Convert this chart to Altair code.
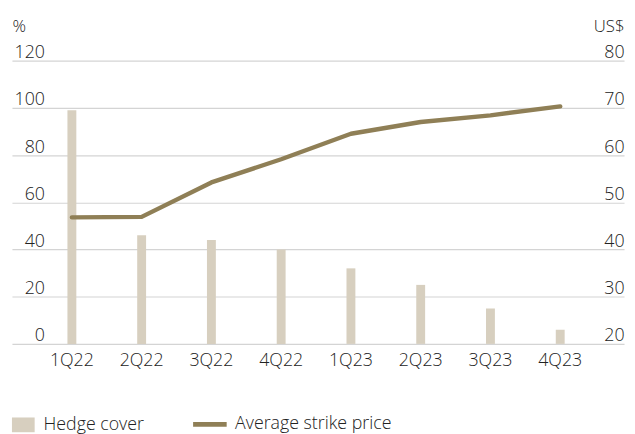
import altair as alt
import pandas as pd

quarters = ["1Q22", "2Q22", "3Q22", "4Q22", "1Q23", "2Q23", "3Q23", "4Q23"]
hedge_cover = [99, 46, 44, 40, 32, 25, 15, 6]
strike_price = [46.8, 46.9, 54.2, 59.1, 64.5, 67.0, 68.4, 70.3]

df = pd.DataFrame({
    "quarter": quarters,
    "hedge": hedge_cover,
    "price": strike_price,
    "s1": ["Hedge cover"] * len(quarters),
    "s2": ["Average strike price"] * len(quarters),
})

FONT = "Open Sans"
W = 300
FS = 18
TXT = "#222222"
BAR = "#d7cfbf"
LINE = "#8f7f56"

x = alt.X(
    "quarter:N",
    sort=quarters,
    scale=alt.Scale(paddingInner=0, paddingOuter=0.387, align=0.464),
    axis=alt.Axis(
        title=None, labelAngle=0, ticks=False, domain=False, labelPadding=8,
        labelFontSize=FS, labelFont=FONT, labelFontWeight=W, labelColor=TXT,
    ),
)

bars = alt.Chart(df).mark_bar(size=9).encode(
    x=x,
    y=alt.Y(
        "hedge:Q",
        scale=alt.Scale(domain=[0, 120], nice=False),
        axis=alt.Axis(
            title="%", titleAngle=0, titleAlign="left", titleBaseline="alphabetic",
            titleX=0, titleY=-29.5, titleFontSize=17, titleFont=FONT,
            titleFontWeight=W, titleColor=TXT,
            values=[0, 20, 40, 60, 80, 100, 120],
            ticks=False, tickSize=0, domain=False, grid=True,
            gridColor="#d4d4d4", gridWidth=1.2,
            labelAlign="right", labelPadding=-33, labelBaseline="alphabetic",
            labelOffset=-3, labelFontSize=FS, labelFont=FONT,
            labelFontWeight=W, labelColor=TXT,
        ),
    ),
    fill=alt.Fill(
        "s1:N",
        scale=alt.Scale(domain=["Hedge cover"], range=[BAR]),
        legend=alt.Legend(
            title=None, orient="none", legendX=0, legendY=357.5,
            symbolType="M-1,-0.65L1,-0.65L1,0.65L-1,0.65Z", symbolSize=529,
            symbolStrokeWidth=0, labelFontSize=FS, labelFont=FONT,
            labelFontWeight=W, labelColor=TXT, labelOffset=9, labelLimit=0,
        ),
    ),
)

line = alt.Chart(df).mark_line(strokeWidth=4.5, strokeCap="round", strokeJoin="round").encode(
    x=x,
    y=alt.Y(
        "price:Q",
        scale=alt.Scale(domain=[20, 80], nice=False),
        axis=alt.Axis(
            orient="right",
            title="US$", titleAngle=0, titleAlign="right", titleBaseline="alphabetic",
            titleX=0, titleY=-29.5, titleFontSize=17, titleFont=FONT,
            titleFontWeight=W, titleColor=TXT,
            values=[20, 30, 40, 50, 60, 70, 80],
            ticks=False, tickSize=0, domain=False, grid=False,
            labelAlign="right", labelPadding=0, labelBaseline="alphabetic",
            labelOffset=-3, labelFontSize=FS, labelFont=FONT,
            labelFontWeight=W, labelColor=TXT,
        ),
    ),
    stroke=alt.Stroke(
        "s2:N",
        scale=alt.Scale(domain=["Average strike price"], range=[LINE]),
        legend=alt.Legend(
            title=None, orient="none", legendX=181, legendY=349,
            symbolType="stroke", symbolSize=1156, symbolStrokeWidth=5,
            labelFontSize=FS, labelFont=FONT, labelFontWeight=W,
            labelColor=TXT, labelOffset=6, labelLimit=0,
        ),
    ),
)

chart = (
    alt.layer(bars, line)
    .resolve_scale(y="independent")
    .properties(
        width=620, height=287,
        autosize=alt.AutoSizeParams(type="none"),
        padding={"left": 4, "top": 50.5, "right": 3, "bottom": 88},
    )
    .configure_view(stroke=None)
)

chart.save("out.html", embed_options={"renderer": "svg", "actions": False})
